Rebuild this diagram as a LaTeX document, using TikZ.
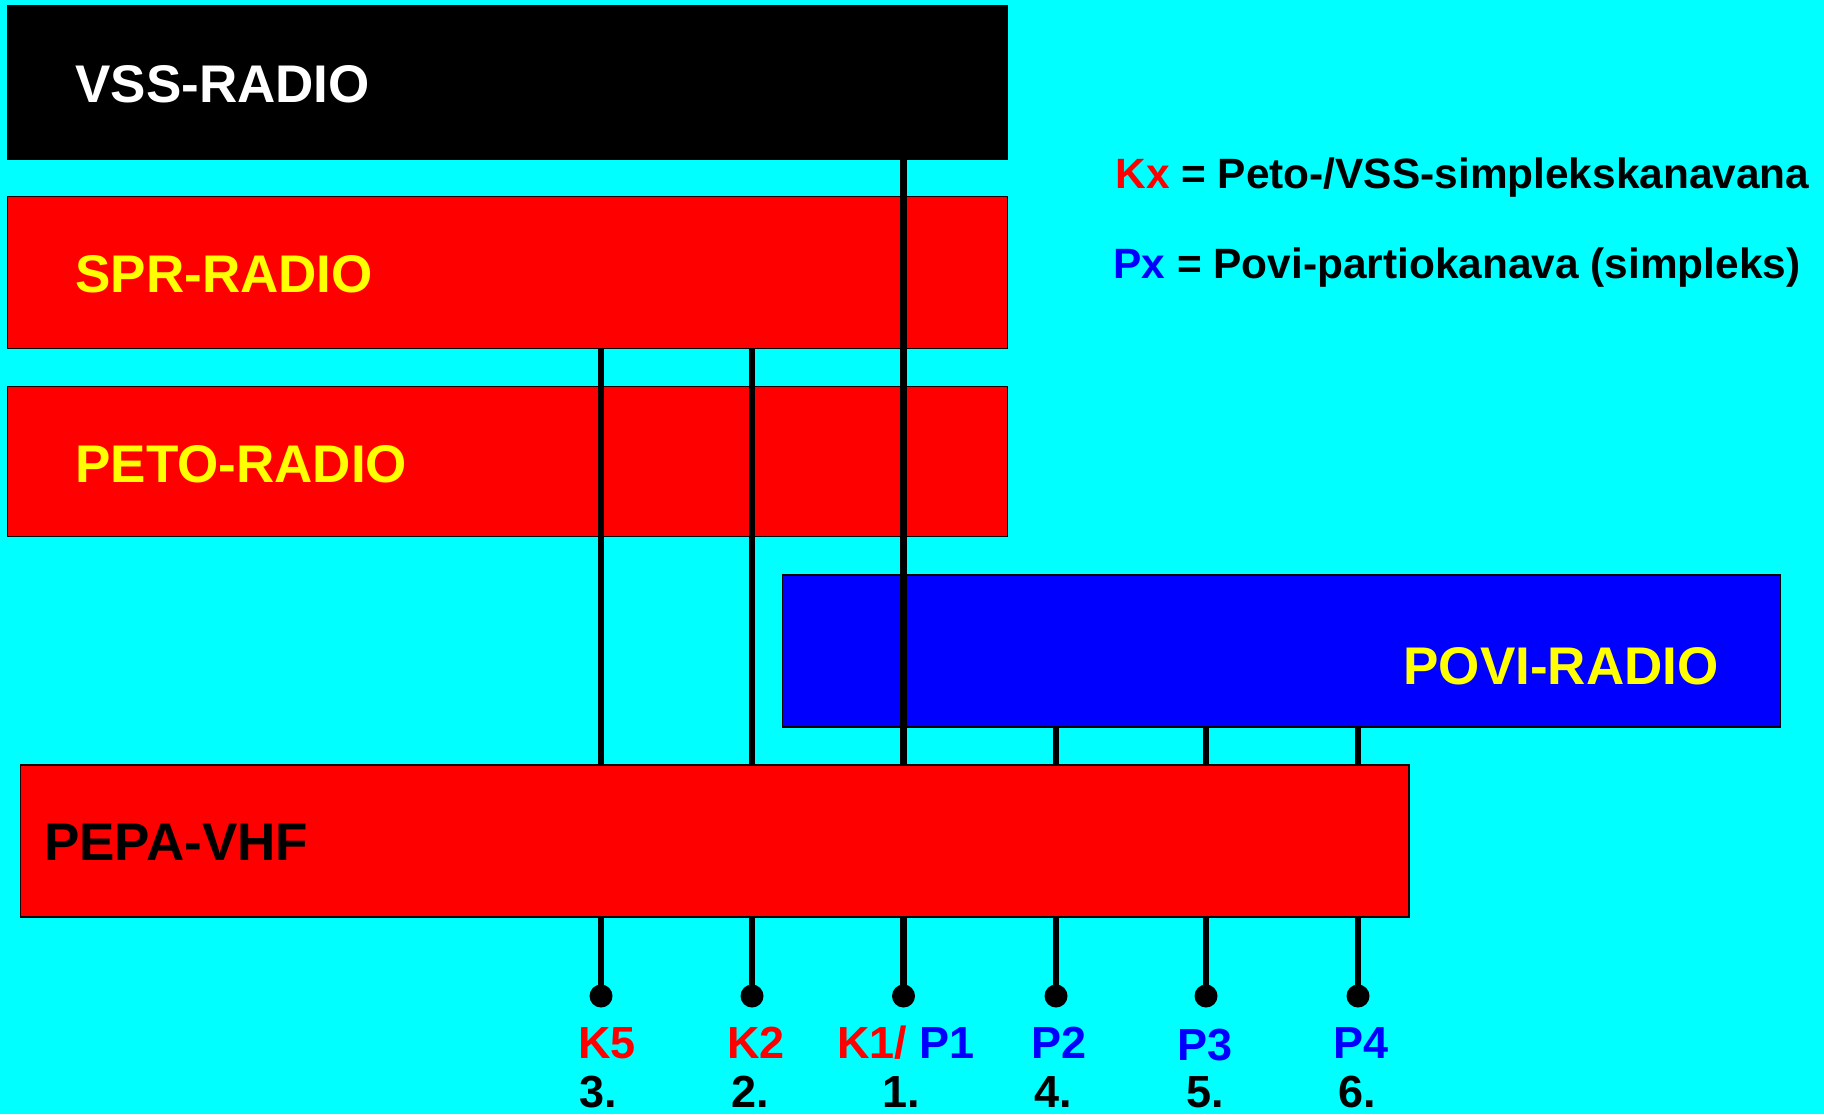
\documentclass[tikz,border=0pt]{standalone}
\usepackage{fontspec}
\setmainfont{Liberation Sans}
\definecolor{bg}{RGB}{0,255,255}
\definecolor{rd}{RGB}{255,0,0}
\definecolor{bl}{RGB}{0,0,255}
\definecolor{yl}{RGB}{255,255,0}
\begin{document}
\begin{tikzpicture}[x=0.5pt,y=-0.5pt,
 box/.style={draw=black, line width=0.75pt, inner sep=0pt, anchor=north west},
 big/.style={font=\fontsize{26.5pt}{30pt}\selectfont\bfseries, inner sep=0pt, anchor=base west},
 leg/.style={font=\fontsize{21.2pt}{25pt}\selectfont\bfseries, inner sep=0pt, anchor=base west},
 lab/.style={font=\fontsize{22.5pt}{26pt}\selectfont\bfseries, inner sep=0pt, anchor=base},
 wire/.style={line width=3.2pt},
 dot/.style={circle, fill=black, inner sep=0pt, minimum size=11.5pt}]
\fill[bg] (0,0) rectangle (1824,1114);
\useasboundingbox (0,0) rectangle (1824,1114);
% boxes
\node[box, fill=black, minimum width=500pt, minimum height=76.5pt] (vss) at (6.7,5) {};
\node[box, fill=rd, minimum width=500pt, minimum height=76pt] (spr) at (6.7,195.7) {};
\node[box, fill=rd, minimum width=500pt, minimum height=75pt] (peto) at (6.7,385.7) {};
\node[box, fill=bl, minimum width=499pt, minimum height=76pt] (povi) at (781.5,574) {};
% dots
\node[dot] (d3) at (601,996) {};
\node[dot] (d2) at (752,996) {};
\node[dot] (d1) at (903.5,996) {};
\node[dot] (d4) at (1056,996) {};
\node[dot] (d5) at (1206,996) {};
\node[dot] (d6) at (1358,996) {};
% wires
\draw[wire] (spr.south -| d3) -- (d3.center);
\draw[wire] (spr.south -| d2) -- (d2.center);
\draw[wire] (vss.south -| d1) -- (d1.center);
\draw[wire] (povi.south -| d4) -- (d4.center);
\draw[wire] (povi.south -| d5) -- (d5.center);
\draw[wire] (povi.south -| d6) -- (d6.center);
% PEPA box on top of wires
\node[box, fill=rd, minimum width=694.2pt, minimum height=76pt] (pepa) at (19.6,764) {};
% box titles
\node[big, text=white] (tvss) at (75,102.5) {VSS-RADIO};
\node[big, text=yl] (tspr) at (75,292) {SPR-RADIO};
\node[big, text=yl] (tpeto) at (75,482) {PETO-RADIO};
\node[big, text=yl] (tpovi) at (1403,684) {POVI-RADIO};
\node[big, text=black] (tpepa) at (43.6,860) {PEPA-VHF};
% legend
\node[leg] (legk) at (1115,188) {\textcolor{rd}{Kx} = Peto-/VSS-simplekskanavana};
\node[leg] (legp) at (1113,278) {\textcolor{bl}{Px} = Povi-partiokanava (simpleks)};
% channel labels
\node[lab, text=rd] (lk5) at (607,1058) {K5};
\node[lab, text=rd] (lk2) at (756,1058) {K2};
\node[lab] (lk1) at (906,1058) {\textcolor{rd}{K1/} \textcolor{bl}{P1}};
\node[lab, text=bl] (lp2) at (1059,1058) {P2};
\node[lab, text=bl] (lp3) at (1205,1060) {P3};
\node[lab, text=bl] (lp4) at (1361,1058) {P4};
% numbers
\node[lab] (n3) at (598,1107) {3.};
\node[lab] (n2) at (750,1107) {2.};
\node[lab] (n1) at (901,1107) {1.};
\node[lab] (n4) at (1053,1107) {4.};
\node[lab] (n5) at (1205,1107) {5.};
\node[lab] (n6) at (1357,1107) {6.};
\end{tikzpicture}
\end{document}
